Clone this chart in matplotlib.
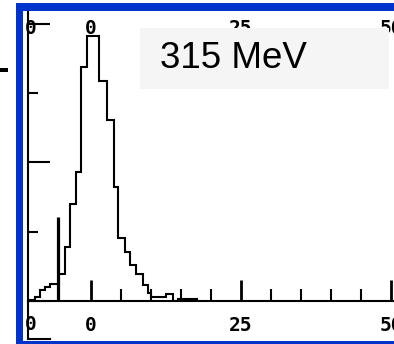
import matplotlib
matplotlib.use("Agg")
import matplotlib.pyplot as plt
from matplotlib.patches import Rectangle
from matplotlib.lines import Line2D
import numpy as np

# histogram (x in energy units, y in counts)
bin_edges = [-10.1, -9.2, -8.4, -7.6, -6.7, -5.6, -5.2, -4.2, -3.4, -2.4,
             -1.6, -0.6, 1.4, 2.75, 3.9, 4.6, 5.7, 6.6, 7.6, 8.7,
             9.6, 10.1, 12.6, 13.7, 14.6, 17.7]
counts = [2, 6, 16, 20, 25, 25, 39, 78, 140, 186,
          338, 383, 317, 261, 165, 91, 71, 52, 39, 23,
          12, 6, 10, 0, 3]
# single tall channel (spike) left of the peak
spike_x = [-5.4]
spike_h = [121]

xticks_major = [0, 25, 50]
xtick_labels = ["0", "25", "50"]
xticks_minor = [5, 10, 15, 20, 30, 35, 40, 45]
yticks_major = [0, 200, 400]
yticks_minor = [100, 300]
label = "315 MeV"

W, H = 394, 344
fig = plt.figure(figsize=(W / 100, H / 100), dpi=100)

def fx(px):
    return px / W

def fy(py):
    return 1 - py / H

# plot area (pixel box 28..394 x 10..301)
ax = fig.add_axes([fx(28), fy(301), fx(394) - fx(28), fy(10) - fy(301)])
ax.stairs(counts, bin_edges, color="black", lw=1.5)
ax.vlines(spike_x, 0, spike_h, color="black", lw=2.3)
ax.set_xlim(-10.4, 50.5)
ax.set_ylim(0, 420)

for s in ["top", "right"]:
    ax.spines[s].set_visible(False)
for s in ["left", "bottom"]:
    ax.spines[s].set_linewidth(1.5)

ax.set_xticks(xticks_major)
ax.set_xticklabels(xtick_labels)
ax.set_xticks(xticks_minor, minor=True)
ax.set_yticks(yticks_major)
ax.set_yticks(yticks_minor, minor=True)
ax.set_yticklabels([])
ax.tick_params(axis="x", which="major", direction="in", length=15, width=2,
               pad=11, labelsize=14)
ax.tick_params(axis="x", which="minor", direction="in", length=8.5, width=1.5)
ax.tick_params(axis="y", which="major", direction="in", length=16, width=1.5)
ax.tick_params(axis="y", which="minor", direction="in", length=7, width=1.5)
for t in ax.get_xticklabels():
    t.set_family("DejaVu Sans Mono")
    t.set_weight("bold")

# extra labels seen on the scan
lab_font = dict(family="DejaVu Sans Mono", weight="bold", fontsize=14,
                ha="center", va="center")
ax.text(-10, -0.082, "0", transform=ax.get_xaxis_transform(), **lab_font)
for v, s in zip([-10] + xticks_major, ["0"] + xtick_labels):
    ax.text(v, 0.938, s, transform=ax.get_xaxis_transform(), clip_on=False,
            **lab_font)

# left line continues below the axis
ax.add_line(Line2D([0, 0], [0, -0.13], transform=ax.transAxes, color="black",
                   lw=1.5, clip_on=False))
ax.add_line(Line2D([0, 0.06], [-0.13, -0.13], transform=ax.transAxes,
                   color="black", lw=1.5, clip_on=False))

# label box
fig.patches.append(Rectangle((fx(140), fy(89)), fx(389) - fx(140),
                             fy(28) - fy(89), transform=fig.transFigure,
                             facecolor="#f5f5f5", edgecolor="none", zorder=3))
fig.text(fx(160), fy(59), label, fontsize=26.5, family="Liberation Sans",
         ha="left", va="center", zorder=4)

# blue frame from the scan
blue = "#0033cc"
fig.patches.append(Rectangle((fx(16), 0), fx(23) - fx(16), fy(3),
                             transform=fig.transFigure, facecolor=blue,
                             edgecolor="none", zorder=5))
fig.patches.append(Rectangle((fx(16), fy(10.5)), 1 - fx(16), fy(3) - fy(10.5),
                             transform=fig.transFigure, facecolor=blue,
                             edgecolor="none", zorder=5))
fig.patches.append(Rectangle((fx(16), 0), 1 - fx(16), fy(341),
                             transform=fig.transFigure, facecolor=blue,
                             edgecolor="none", zorder=5))
# stray tick outside the frame
fig.patches.append(Rectangle((0, fy(72)), fx(8), fy(68) - fy(72),
                             transform=fig.transFigure, facecolor="black",
                             edgecolor="none", zorder=5))

fig.savefig("out.png", dpi=100)
